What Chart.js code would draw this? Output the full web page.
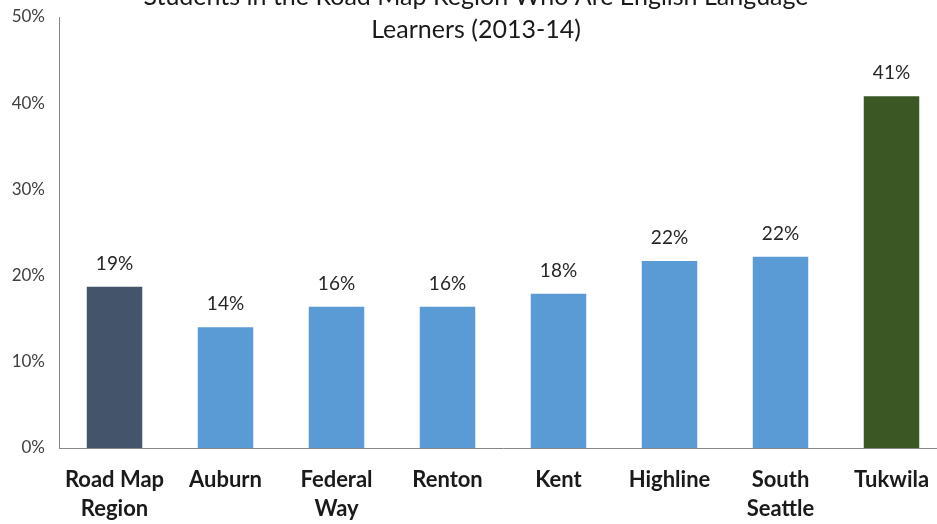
<!DOCTYPE html>
<html>
<head>
<meta charset="utf-8">
<script src="https://cdn.jsdelivr.net/npm/chart.js@4"></script>
<style>
  html, body { margin: 0; padding: 0; background: #fff; overflow: hidden; }
  #wrap { position: absolute; left: 0; top: 0; width: 947px; height: 524px; }
</style>
</head>
<body>
<div id="wrap"><canvas id="ellChart"></canvas></div>
<script>
// ---- data ----
const categories = [['Road Map', 'Region'], 'Auburn', ['Federal', 'Way'], 'Renton', 'Kent', 'Highline', ['South', 'Seattle'], 'Tukwila'];
const ellShare = [18.7, 14.0, 16.4, 16.4, 17.9, 21.7, 22.2, 40.8];
const valueLabels = ['19%', '14%', '16%', '16%', '18%', '22%', '22%', '41%'];
const barColors = ['#44546A', '#5B9BD5', '#5B9BD5', '#5B9BD5', '#5B9BD5', '#5B9BD5', '#5B9BD5', '#3A5724'];
const titleLines = ['Students in the Road Map Region Who Are English Language', 'Learners (2013-14)'];

const FONT = "Lato, 'Open Sans', sans-serif";

// title drawn over the plot, first line runs off the top like the original
const titlePlugin = {
  id: 'overTitle',
  afterDraw(chart) {
    const ctx = chart.ctx;
    const cx = 476;
    ctx.save();
    ctx.font = '25px ' + FONT;
    ctx.fillStyle = '#1a1a1a';
    ctx.textAlign = 'center';
    ctx.textBaseline = 'middle';
    ctx.fillText(titleLines[0], cx, -3);
    ctx.fillText(titleLines[1], cx, 30);
    ctx.restore();
  }
};

// value labels above bars
const valuePlugin = {
  id: 'valueLabels',
  afterDatasetsDraw(chart) {
    const ctx = chart.ctx;
    const meta = chart.getDatasetMeta(0);
    ctx.save();
    ctx.font = '19px ' + FONT;
    ctx.fillStyle = '#262626';
    ctx.textAlign = 'center';
    ctx.textBaseline = 'middle';
    meta.data.forEach((bar, i) => {
      ctx.fillText(valueLabels[i], bar.x, bar.y - 23);
    });
    ctx.restore();
  }
};

new Chart(document.getElementById('ellChart'), {
  type: 'bar',
  data: {
    labels: categories,
    datasets: [{
      data: ellShare,
      backgroundColor: barColors,
      borderWidth: 0,
      barPercentage: 0.5,
      categoryPercentage: 1.0
    }]
  },
  options: {
    responsive: true,
    maintainAspectRatio: false,
    animation: false,
    layout: { padding: { top: 17, right: 0, bottom: 0, left: 0 } },
    plugins: {
      legend: { display: false },
      title: { display: false },
      tooltip: { enabled: false }
    },
    scales: {
      y: {
        min: 0,
        max: 50,
        afterFit: (s) => { s.width = 59; s.paddingTop = 0; s.paddingBottom = 0; },
        ticks: {
          stepSize: 10,
          padding: 14,
          color: '#404040',
          font: { family: FONT, size: 17 },
          callback: (v) => v + '%'
        },
        grid: { display: false, drawTicks: false },
        border: { display: true, color: '#868686', width: 1 }
      },
      x: {
        afterFit: (s) => { s.height = 76; s.paddingLeft = 0; s.paddingRight = 0; },
        ticks: {
          padding: 18,
          color: '#1a1a1a',
          maxRotation: 0,
          autoSkip: false,
          font: { family: FONT, size: 22, weight: 'bold', lineHeight: 1.3 }
        },
        grid: { display: false, drawTicks: false },
        border: { display: true, color: '#868686', width: 1 }
      }
    }
  },
  plugins: [valuePlugin, titlePlugin]
});
</script>
</body>
</html>
